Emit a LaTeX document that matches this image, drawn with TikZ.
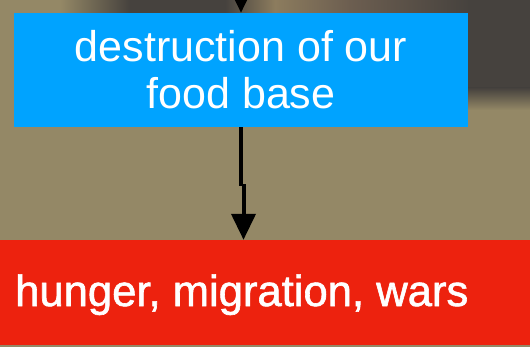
\documentclass[tikz,border=0pt]{standalone}
\usepackage{fontspec}
\setmainfont{Liberation Sans}
\newfontfamily\medfont[FakeBold=1.4]{Liberation Sans}
\usetikzlibrary{arrows.meta,calc}
\definecolor{bgk}{RGB}{148,136,102}
\definecolor{bgd}{RGB}{70,66,62}
\definecolor{bgm}{RGB}{108,94,80}
\definecolor{bgl}{RGB}{140,124,94}
\definecolor{boxblue}{RGB}{0,163,255}
\definecolor{boxred}{RGB}{237,34,14}
\tikzset{
  bluebox/.style={fill=boxblue, minimum width=454pt, minimum height=114pt, inner sep=0pt,
    text=white, align=center, font=\fontsize{43}{47}\selectfont},
  redbox/.style={fill=boxred, minimum width=530pt, minimum height=105pt, inner sep=0pt},
  redtext/.style={text=white, inner sep=0pt, font=\medfont\fontsize{43.6}{47}\selectfont},
  conn/.style={line width=4pt, -{Triangle[length=26pt,width=24pt]}},
  plainline/.style={line width=4pt}
}
\begin{document}
\begin{tikzpicture}[x=1pt,y=-1pt]
\useasboundingbox (0,0) rectangle (530,347);
% background photo approximation
\fill[bgk] (0,0) rectangle (530,347);
\shade[left color=bgk, right color=bgd] (60,0) rectangle (130,14);
\fill[bgd] (130,0) rectangle (225,14);
\shade[left color=bgd, right color=bgl] (225,0) rectangle (275,14);
\shade[left color=bgl, right color=bgm] (275,0) rectangle (350,14);
\shade[left color=bgm, right color=bgd] (350,0) rectangle (470,14);
\fill[bgd] (468,0) rectangle (530,88);
\shade[top color=bgd, bottom color=bgk] (468,88) rectangle (530,110);
% boxes
\node[bluebox] (food) at (241,70) {destruction of our\\food base};
\node[redbox] (war) at (265,292.5) {};
\node[redtext, anchor=base west] (wartext) at (15,306) {hunger, migration, wars};
% connectors
\coordinate (topin) at (241,-30);
\draw[conn] (topin) -- (food.north);
\coordinate (kink) at ($(food.south)+(0,59)$);
\draw[plainline] (food.south) -- (kink);
\coordinate (k2) at ($(kink)+(2.5,-2)$);
\draw[conn] (k2) -- (k2 |- war.north);
\end{tikzpicture}
\end{document}
